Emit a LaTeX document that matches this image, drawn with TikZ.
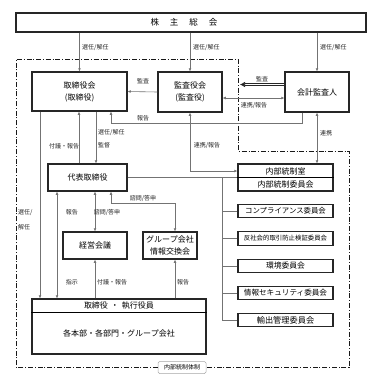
\documentclass[tikz,border=0pt]{standalone}
\usepackage{fontspec}
\setmainfont{Noto Sans CJK JP}
\usetikzlibrary{arrows.meta}
\newcommand\fsz[1]{\fontsize{#1pt}{#1pt}\selectfont}
\begin{document}
\begin{tikzpicture}[x=1pt,y=-1pt,
 box/.style={draw=black!85,line width=1.1pt,inner sep=0pt,align=center,font=\fsz{8}},
 conn/.style={draw=black!55,line width=0.6pt},
 arr/.style={conn,-{Latex[length=3.2pt,width=2.8pt]}},
 arrb/.style={conn,{Latex[length=3.2pt,width=2.8pt]}-{Latex[length=3.2pt,width=2.8pt]}},
 lab/.style={font=\fsz{6},text=black!85,inner sep=0pt},
 txt/.style={font=\fsz{8},inner sep=0pt},
 region/.style={draw=black!90,line width=0.8pt,dash pattern=on 5pt off 1.8pt on 1pt off 1.8pt}]
\useasboundingbox (0,0) rectangle (381,381);
% boxes
\node[box,minimum width=350pt,minimum height=19pt] (kabu) at (191,22.5) {};
\node[font=\fsz{8.5},inner sep=0pt] (kabut) at (184,22.5) {株\hspace{11pt}主\hspace{11pt}総\hspace{11pt}会};
\node[box,minimum width=95pt,minimum height=39pt] (tori) at (79.5,91.5) {取締役会\\[4pt](取締役)};
\node[box,minimum width=64pt,minimum height=40pt] (kansa) at (190,92) {監査役会\\[4pt](監査役)};
\node[box,minimum width=64pt,minimum height=40pt] (kaikei) at (317,92) {会計監査人};
\node[box,minimum width=79pt,minimum height=27pt] (dai) at (87.5,177.5) {代表取締役};
\node[box,minimum width=64pt,minimum height=27pt] (keiei) at (95,245.5) {経営会議};
\node[box,minimum width=54pt,minimum height=27pt] (group) at (170,245.5) {グループ会社\\[4pt]情報交換会};
\node[box,minimum width=95pt,minimum height=27pt] (naibu) at (285.5,177.5) {};
\draw[line width=0.7pt] (naibu.west) -- (naibu.east);
\node[txt] (naibuA) at (285.5,171) {内部統制室};
\node[txt] (naibuB) at (285.5,184.5) {内部統制委員会};
\node[box,minimum width=95pt,minimum height=13.5pt,font=\fsz{7.4}] (c1) at (285.5,211) {コンプライアンス委員会};
\node[box,minimum width=95pt,minimum height=13.5pt,font=\fsz{6.4}] (c2) at (285.5,238.5) {反社会的取引防止検証委員会};
\node[box,minimum width=95pt,minimum height=13.5pt,font=\fsz{7.8}] (c3) at (285.5,266) {環境委員会};
\node[box,minimum width=95pt,minimum height=13.5pt,font=\fsz{7.6}] (c4) at (285.5,293) {情報セキュリティ委員会};
\node[box,minimum width=95pt,minimum height=13.5pt,font=\fsz{8.2}] (c5) at (285.5,320) {輸出管理委員会};
\node[box,minimum width=174pt,minimum height=55pt] (hon) at (119,326.5) {};
\draw[line width=0.7pt] ([yshift=-14pt]hon.north west) -- ([yshift=-14pt]hon.north east);
\node[txt] (honA) at (119,306) {取締役\hspace{3pt}・\hspace{3pt}執行役員};
\node[txt] (honB) at (119,333.5) {各本部・各部門・グループ会社};
% internal control region
\node[draw=black!35,rounded corners=1.5pt,line width=0.5pt,font=\fsz{6},minimum width=48pt,minimum height=12pt,inner sep=0pt] (reg) at (182,367.5) {内部統制体制};
\draw[region] (reg.west) -- (16,367.5) -- (16,59) -- (238,59) -- (238,151) -- (349,151) -- (349,367.5) -- (reg.east);
% connectors from shareholders
\draw[arr] (kabu.south -| tori.north) -- (tori.north);
\node[lab,anchor=west] (l1) at (82,48) {選任/解任};
\draw[arr] (kabu.south -| kansa.north) -- (kansa.north);
\node[lab,anchor=west] (l2) at (193,48) {選任/解任};
\draw[arr] (kabu.south -| kaikei.north) -- (kaikei.north);
\node[lab,anchor=west] (l3) at (320,48) {選任/解任};
% audit
\draw[arr] (kansa.west) -- (tori.east);
\node[lab] (l4) at (143,81) {監査};
\coordinate (dl) at (240,84.5);
\draw[black!85,double=white,double distance=1.1pt,line width=0.6pt,-{Latex[length=5pt,width=5.5pt]}] (kaikei.west |- dl) -- (dl);
\node[lab] (l5) at (262,79) {監査};
\draw[arrb] ([yshift=-6pt]kansa.east) -- ([yshift=-6pt]kaikei.west);
\node[lab] (l6) at (254,106) {連携/報告};
\draw[arr] ([xshift=-15pt]kaikei.south) -- ++(0,11) -| ([xshift=31.5pt]tori.south);
\node[lab] (l7) at (143,118) {報告};
\draw[arrb] (kansa.south) |- ([yshift=6.5pt]naibu.west);
\node[lab] (l8) at (207,146) {連携/報告};
\draw[arrb] (kaikei.south) -- (kaikei.south |- naibu.north);
\node[lab,anchor=west] (l9) at (320,133) {連携};
% committees
\draw[conn] (dai.east) -- (naibu.west);
\coordinate (trunk) at (222,177.5);
\draw[conn] (trunk) |- (c5.west);
\foreach \c in {c1,c2,c3,c4} \draw[conn] (\c.west) -- (\c.west -| trunk);
% board and representative
\draw[arr] ([xshift=-8.5pt]dai.north) -- ([xshift=-8.5pt]dai.north |- tori.south);
\node[lab] (l10) at (64,146) {付議・報告};
\draw[arr] ([xshift=8.5pt]dai.north |- tori.south) -- ([xshift=8.5pt]dai.north);
\node[lab,anchor=west] (l11) at (98,133) {選任/解任};
\node[lab,anchor=west] (l12) at (98,145) {監督};
\draw[arr] ([xshift=-39.5pt]tori.south) -- ([xshift=-39.5pt]tori.south |- hon.north);
\node[lab,anchor=west] (l13) at (18,213) {選任/};
\node[lab,anchor=west] (l14) at (18,227) {解任};
\draw[arrb] ([xshift=-30.5pt]dai.south) -- ([xshift=-30.5pt]dai.south |- hon.north);
\node[lab] (l15) at (72,212) {報告};
\node[lab] (l16) at (72,282) {指示};
\draw[arrb] (keiei.north) -- (keiei.north |- dai.south);
\node[lab] (l17) at (107,212) {諮問/答申};
\draw[arr] (keiei.south |- hon.north) -- (keiei.south);
\node[lab] (l18) at (112,282) {付議・報告};
\draw[arrb] ([xshift=23.5pt]dai.south) -- ++(0,12) -| ([xshift=5pt]group.north);
\node[lab] (l19) at (143,198) {諮問/答申};
\draw[arr] ([xshift=5pt]group.south |- hon.north) -- ([xshift=5pt]group.south);
\node[lab] (l20) at (183,282) {報告};
\end{tikzpicture}
\end{document}
